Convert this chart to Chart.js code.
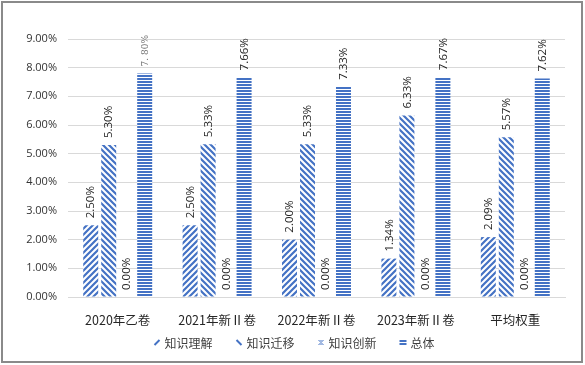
<!DOCTYPE html>
<html>
<head>
<meta charset="utf-8">
<script src="https://cdn.jsdelivr.net/npm/chart.js"></script>
<style>
  html, body { margin: 0; padding: 0; background: #fff; }
  #wrap { width: 585px; height: 365px; }
</style>
</head>
<body>
<div id="wrap"><canvas id="chart" width="585" height="365"></canvas></div>
<script>
// data
const categories = ['2020年乙卷', '2021年新Ⅱ卷', '2022年新Ⅱ卷', '2023年新Ⅱ卷', '平均权重'];
const seriesNames = ['知识理解', '知识迁移', '知识创新', '总体'];
const understanding = [2.50, 2.50, 2.00, 1.34, 2.09];
const transfer = [5.30, 5.33, 5.33, 6.33, 5.57];
const innovation = [0, 0, 0, 0, 0];
const overall = [7.80, 7.66, 7.33, 7.67, 7.62];
const yTicks = [0, 1, 2, 3, 4, 5, 6, 7, 8, 9];

const BLUE = '#4472c4';

function tile(size, draw) {
  const c = document.createElement('canvas');
  c.width = size; c.height = size;
  const g = c.getContext('2d');
  g.fillStyle = '#fff';
  g.fillRect(0, 0, size, size);
  draw(g, size);
  return c;
}

function diag(dir) {
  return tile(6, (g, s) => {
    g.strokeStyle = BLUE;
    g.lineWidth = 2.2;
    g.beginPath();
    if (dir > 0) {
      g.moveTo(-1, s + 1); g.lineTo(s + 1, -1);
      g.moveTo(-1, 1); g.lineTo(1, -1);
      g.moveTo(s - 1, s + 1); g.lineTo(s + 1, s - 1);
    } else {
      g.moveTo(-1, -1); g.lineTo(s + 1, s + 1);
      g.moveTo(-1, s - 1); g.lineTo(1, s + 1);
      g.moveTo(s - 1, -1); g.lineTo(s + 1, 1);
    }
    g.stroke();
  });
}

const tiles = [
  diag(1),
  diag(-1),
  tile(4, (g) => { g.fillStyle = BLUE; [[0,0],[2,2],[1,1],[3,3],[3,1],[1,3]].forEach(p => g.fillRect(p[0], p[1], 1, 1)); }),
  (() => { const c = document.createElement('canvas'); c.width = 3; c.height = 3;
    const g = c.getContext('2d'); g.fillStyle = '#fff'; g.fillRect(0, 0, 3, 3);
    g.fillStyle = BLUE; g.fillRect(0, 0, 3, 2); return c; })()
];

const ctx = document.getElementById('chart').getContext('2d');
const patterns = tiles.map(t => ctx.createPattern(t, 'repeat'));

// small legend icons
function drawIcon(g, i, x, y) {
  g.save();
  g.fillStyle = BLUE;
  g.strokeStyle = BLUE;
  g.lineWidth = 2;
  if (i === 0) { g.beginPath(); g.moveTo(x + 1, y + 6); g.lineTo(x + 6, y + 1); g.stroke(); }
  if (i === 1) { g.beginPath(); g.moveTo(x + 1, y + 1); g.lineTo(x + 6, y + 6); g.stroke(); }
  if (i === 2) { [[1,1],[3,1],[5,1],[2,2],[4,2],[2,4],[4,4],[3,3],[1,5],[3,5],[5,5]].forEach(p => g.fillRect(x + p[0], y + p[1], 1, 1)); }
  if (i === 3) { g.fillRect(x, y + 1, 7, 2); g.fillRect(x, y + 4, 7, 2); }
  g.restore();
}

const seriesData = [understanding, transfer, innovation, overall];

const frame = {
  id: 'frame',
  beforeDraw(chart) {
    const c = chart.ctx;
    c.save();
    c.fillStyle = '#fff';
    c.fillRect(0, 0, chart.width, chart.height);
    c.restore();
  },
  afterDraw(chart) {
    const c = chart.ctx;
    c.save();
    c.strokeStyle = '#8a8a8a';
    c.lineWidth = 2;
    c.strokeRect(2, 2, 580, 360);
    c.restore();
  }
};

const bottomLegend = {
  id: 'bottomLegend',
  afterDraw(chart) {
    const c = chart.ctx;
    c.save();
    c.font = '12px "Noto Sans CJK SC", sans-serif';
    const iconW = 7, iconGap = 4, itemGap = 23;
    const widths = seriesNames.map(n => iconW + iconGap + c.measureText(n).width);
    const total = widths.reduce((a, b) => a + b, 0) + itemGap * (widths.length - 1);
    let x = 294 - total / 2;
    const cy = 343;
    c.textBaseline = 'middle';
    c.textAlign = 'left';
    seriesNames.forEach((n, i) => {
      drawIcon(c, i, x, cy - 4);
      c.fillStyle = '#404040';
      c.fillText(n, x + iconW + iconGap, cy);
      x += widths[i] + itemGap;
    });
    c.restore();
  }
};

const valueLabels = {
  id: 'valueLabels',
  afterDatasetsDraw(chart) {
    const c = chart.ctx;
    chart.data.datasets.forEach((ds, di) => {
      const meta = chart.getDatasetMeta(di);
      meta.data.forEach((bar, i) => {
        const v = ds.data[i];
        let text = v.toFixed(2) + '%';
        let font = '11.5px "Open Sans", "Noto Sans", sans-serif';
        let color = '#262626';
        if (di === 3 && i === 0) {
          text = '7. 80%';
          font = '9px "DejaVu Serif", serif';
          color = '#707070';
        }
        c.save();
        c.translate(bar.x + 0.5, bar.y - 7);
        c.rotate(-Math.PI / 2);
        c.font = font;
        c.fillStyle = color;
        c.textAlign = 'left';
        c.textBaseline = 'middle';
        c.fillText(text, 0, 0);
        c.restore();
      });
    });
  }
};

new Chart(ctx, {
  type: 'bar',
  data: {
    labels: categories,
    datasets: seriesNames.map((name, i) => ({
      label: name,
      data: seriesData[i],
      backgroundColor: patterns[i],
      borderWidth: 0,
      categoryPercentage: 0.724,
      barPercentage: 0.833
    }))
  },
  options: {
    responsive: false,
    animation: false,
    layout: { padding: { top: 39, right: 20, left: 0, bottom: 38 } },
    plugins: {
      tooltip: { enabled: false },
      legend: { display: false }
    },
    scales: {
      x: {
        grid: { display: false },
        border: { display: true, color: '#d9d9d9' },
        ticks: {
          color: '#262626',
          padding: 8,
          font: { family: '"Noto Sans CJK SC", sans-serif', size: 12.5 }
        },
        afterFit(scale) { scale.height = 30; }
      },
      y: {
        min: 0,
        max: 9,
        afterBuildTicks(scale) { scale.ticks = yTicks.map(v => ({ value: v })); },
        grid: { color: '#d9d9d9', drawTicks: false },
        border: { display: false },
        ticks: {
          color: '#333333',
          padding: 11,
          font: { family: '"Open Sans", "Noto Sans", sans-serif', size: 11 },
          callback: v => v.toFixed(2) + '%'
        },
        afterFit(scale) { scale.width = 68; }
      }
    }
  },
  plugins: [frame, valueLabels, bottomLegend]
});
</script>
</body>
</html>
